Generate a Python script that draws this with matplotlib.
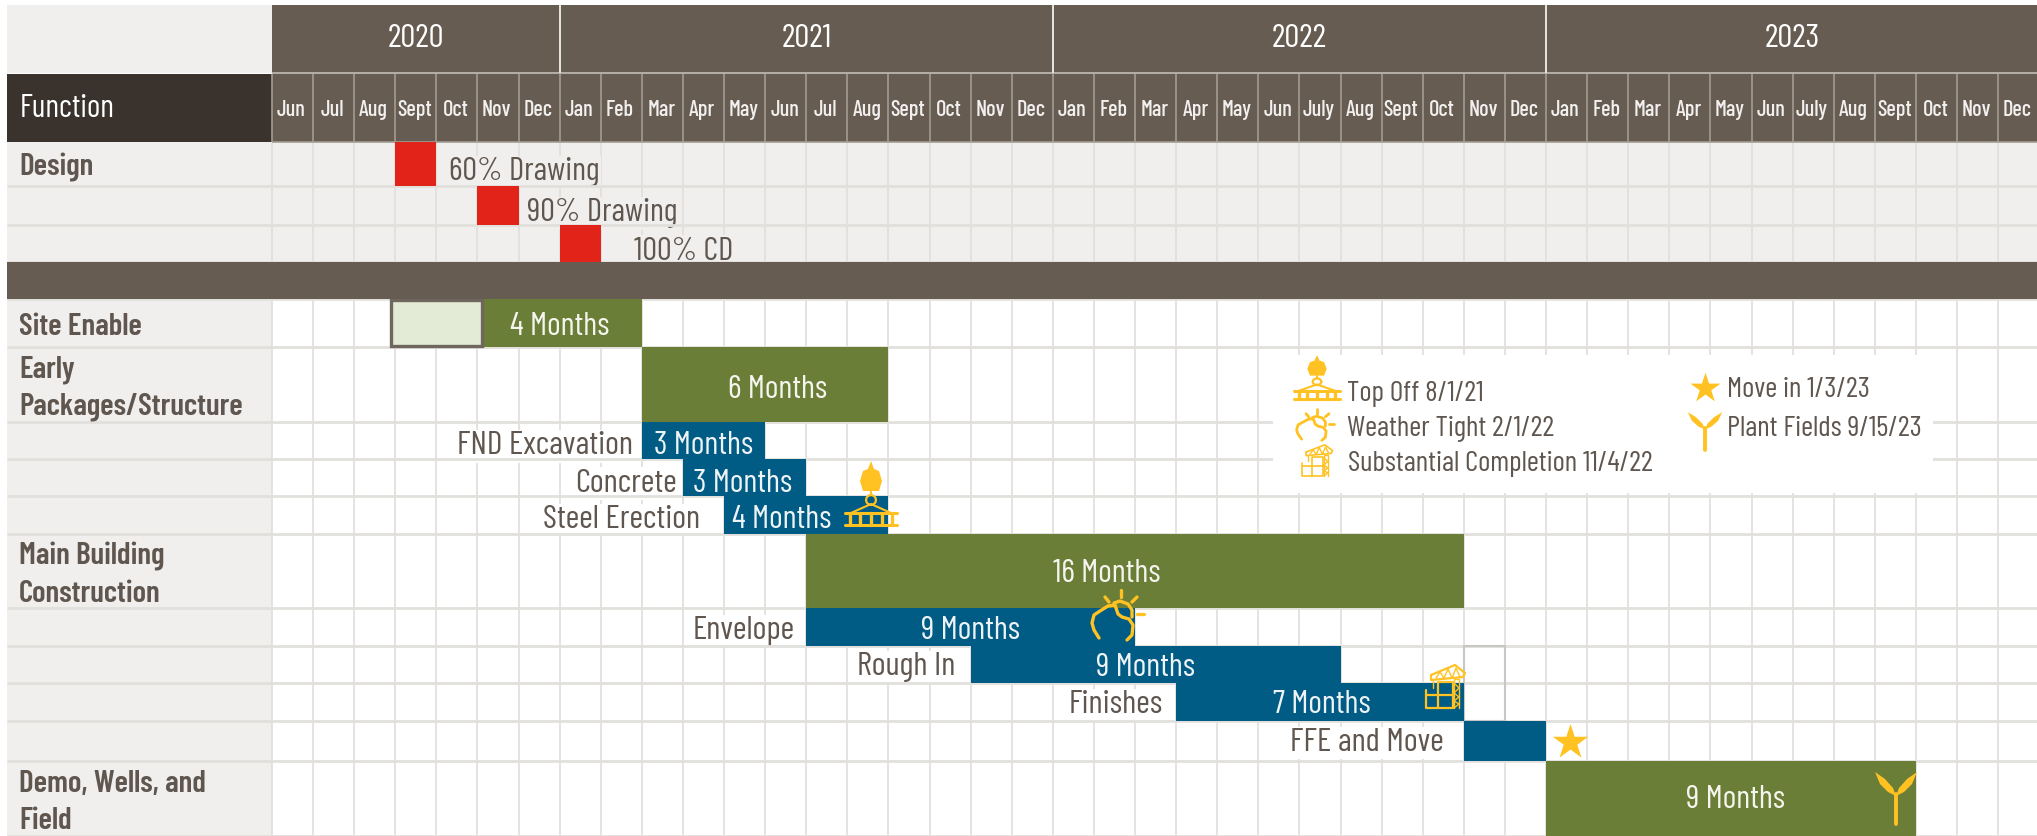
import matplotlib
matplotlib.use('Agg')
import numpy as np
import matplotlib.pyplot as plt
from matplotlib.patches import Polygon, Rectangle

plt.rcParams['font.family'] = ['Barlow Condensed', 'Roboto Condensed', 'Liberation Sans Narrow', 'Liberation Sans', 'DejaVu Sans']

# chart data, months counted from Jun 2020 = 0
months = ['Jun', 'Jul', 'Aug', 'Sept', 'Oct', 'Nov', 'Dec',
          'Jan', 'Feb', 'Mar', 'Apr', 'May', 'Jun', 'Jul', 'Aug', 'Sept', 'Oct', 'Nov', 'Dec',
          'Jan', 'Feb', 'Mar', 'Apr', 'May', 'Jun', 'July', 'Aug', 'Sept', 'Oct', 'Nov', 'Dec',
          'Jan', 'Feb', 'Mar', 'Apr', 'May', 'Jun', 'July', 'Aug', 'Sept', 'Oct', 'Nov', 'Dec']
years = ['2020', '2021', '2022', '2023']
year_centers = [3.5, 13, 25, 37]
year_starts = [7, 19, 31]

design_names = ['60% Drawing', '90% Drawing', '100% CD']
design_start = [3, 5, 7]
design_label_x = [4.3, 6.2, 8.8]

group_names = ['Site Enable', 'Early\nPackages/Structure', 'Main Building\nConstruction', 'Demo, Wells, and\nField']
group_rows = [4, 5, 9, 14]
group_start = [5, 9, 13, 31]
group_end = [9, 15, 29, 40]
group_text = ['4 Months', '6 Months', '16 Months', '9 Months']
group_text_x = [7.0, 12.3, 20.3, 35.6]
group_text_dy = [4, 6, 3, 2]

task_names = ['FND Excavation', 'Concrete', 'Steel Erection', 'Envelope', 'Rough In', 'Finishes', 'FFE and Move']
task_rows = [6, 7, 8, 10, 11, 12, 13]
task_start = [9, 10, 11, 13, 17, 22, 29]
task_end = [12, 13, 15, 21, 26, 29, 31]
task_text = ['3 Months', '3 Months', '4 Months', '9 Months', '9 Months', '7 Months', '']
task_text_x = [10.5, 11.46, 12.4, 17.0, 21.25, 25.55, 30]
task_label_gap = [0.22, 0.15, 0.58, 0.27, 0.38, 0.32, 0.5]
task_dy = [6, 6, 5, 4, 3, 3, 2]

legend_left = ['Top Off 8/1/21', 'Weather Tight 2/1/22', 'Substantial Completion 11/4/22']
legend_right = ['Move in 1/3/23', 'Plant Fields 9/15/23']

# layout in pixels of the 2037x836 picture
W, H = 2037, 836
X0, MW = 272, 41.1
row_edges = [142, 186, 225, 262, 299, 347, 422, 459, 496, 534, 608, 646, 683, 721, 761, 836]

PANE = '#F0EFED'
BROWN = '#675C52'
DARK = '#3A322C'
GREEN = '#6A7E38'
BLUE = '#005B85'
RED = '#E2231A'
YELLOW = '#FFC222'
TEXT = '#5F564F'
GRID = '#E2E0DD'
HEADLINE = '#A39C94'


def mx(px):
    return (px - X0) / MW


fig = plt.figure(figsize=(W / 100, H / 100), dpi=100)
ax = fig.add_axes([0, 0, 1, 1])
ax.set_xlim(mx(0), mx(W))
ax.set_ylim(H, 0)
ax.axis('off')


def row_bar(row, start, end, color, **kw):
    top, bot = row_edges[row], row_edges[row + 1]
    ax.barh((top + bot) / 2, end - start, left=start, height=bot - top, color=color, linewidth=0, **kw)


def row_mid(row):
    return (row_edges[row] + row_edges[row + 1]) / 2


# backgrounds
ax.add_patch(Rectangle((mx(7), 5), mx(272) - mx(7), 68, color=PANE, lw=0, zorder=1))
ax.add_patch(Rectangle((0, 5), len(months) + 1, 67, color=BROWN, lw=0, zorder=1))
ax.add_patch(Rectangle((mx(7), 74), mx(272) - mx(7), 68, color=DARK, lw=0, zorder=1))
ax.add_patch(Rectangle((0, 74), len(months) + 1, 68, color=BROWN, lw=0, zorder=1))
ax.add_patch(Rectangle((mx(7), 142), mx(W) - mx(7), 120, color=PANE, lw=0, zorder=1))
ax.add_patch(Rectangle((mx(7), 299), mx(272) - mx(7), 537, color=PANE, lw=0, zorder=1))

# grid
edges = list(range(len(months) + 1))
ax.vlines(edges, 142, 262, color=GRID, lw=1.3, zorder=2)
ax.vlines(edges, 299, 836, color=GRID, lw=1.3, zorder=2)
ax.hlines(row_edges[1:], mx(7), mx(W), color=GRID, lw=2.0, zorder=3.5)
ax.vlines(edges, 74, 142, color=HEADLINE, lw=1.2, zorder=3)
ax.hlines([73, 142], 0, mx(W), color=HEADLINE, lw=1.2, zorder=3)
ax.vlines(year_starts, 5, 73, color='#E8E6E3', lw=1.4, zorder=3)

# band between design and the rest
ax.add_patch(Rectangle((mx(7), 262), mx(W) - mx(7), 37, color=BROWN, lw=0, zorder=7))

# header text
for c, y in zip(year_centers, years):
    ax.text(c, 39, y, color='white', fontsize=24, ha='center', va='center', zorder=8)
for i, m in enumerate(months):
    ax.text(i + 0.47, 110, m, color='#F2F0EE', fontsize=16, fontweight='medium', ha='center', va='center', zorder=8)
ax.text(mx(20), 109, 'Function', color='white', fontsize=23, ha='left', va='center', zorder=8)

# design milestones
for i, name in enumerate(design_names):
    row_bar(i, design_start[i], design_start[i] + 1, RED, zorder=5)
    ax.text(design_label_x[i], row_mid(i) + 8, name, color=TEXT, fontsize=23.5, ha='left', va='center', zorder=3,
            bbox=dict(facecolor=PANE, edgecolor='none', pad=1))

# left column labels
ax.text(mx(19), 167, 'Design', color=TEXT, fontsize=22.5, fontweight='semibold', ha='left', va='center', zorder=8)
for i, name in enumerate(group_names):
    y = row_mid(group_rows[i]) + 4
    ax.text(mx(19), y, name, color=TEXT, fontsize=22.5, fontweight='semibold', ha='left', va='center',
            linespacing=1.37, zorder=8)

# green summary bars
for i in range(len(group_names)):
    row_bar(group_rows[i], group_start[i], group_end[i], GREEN, zorder=5)
    ax.text(group_text_x[i], row_mid(group_rows[i]) + group_text_dy[i], group_text[i], color='#F5F5EE', fontsize=23.5,
            ha='center', va='center', zorder=6)

# site enable lead-in box
ax.add_patch(Rectangle((2.9, 300), 2.2, 46, facecolor='#E3EAD5', edgecolor='#6F665E', lw=2.4, zorder=6))

# outlined empty cell next to finishes
ax.add_patch(Rectangle((29, 646), 1, 75, facecolor='none', edgecolor='#C9C7C5', lw=1.5, zorder=4))

# blue task bars
for i, name in enumerate(task_names):
    row_bar(task_rows[i], task_start[i], task_end[i], BLUE, zorder=5)
    ax.text(task_start[i] - task_label_gap[i], row_mid(task_rows[i]) + task_dy[i], name, color=TEXT, fontsize=24,
            ha='right', va='center', zorder=3, bbox=dict(facecolor='white', edgecolor='none', pad=1))
    if task_text[i]:
        ax.text(task_text_x[i], row_mid(task_rows[i]) + task_dy[i], task_text[i], color='#EEF3F6', fontsize=23.5,
                ha='center', va='center', zorder=6)


# icons, drawn in pixel offsets round a centre
def icon_line(cx, cy, xs, ys, sx, sy, lw):
    ax.plot([mx(cx + a * sx) for a in xs], [cy + b * sy for b in ys], color=YELLOW, lw=lw,
            solid_capstyle='round', solid_joinstyle='round', zorder=9)


def icon_poly(cx, cy, pts, sx, sy):
    ax.add_patch(Polygon([(mx(cx + a * sx), cy + b * sy) for a, b in pts], closed=True, color=YELLOW, lw=0, zorder=9))


def crane_hook(cx, cy, sx=1.0, sy=1.0):
    icon_poly(cx, cy, [(0, -32), (3, -24), (8, -22), (11, -12), (8, -2), (-8, -2), (-11, -12), (-8, -22), (-3, -24)], sx, sy)
    icon_line(cx, cy, [0, 0], [-2, 2], sx, sy, 1.5)
    t = np.radians(np.arange(0, 361, 30))
    icon_line(cx, cy, 5 * np.cos(t), 7 + 5 * np.sin(t), sx, sy, 1.6)
    icon_line(cx, cy, [-20, 0, 20], [20, 11, 20], sx, sy, 1.5)
    icon_line(cx, cy, [-26, 26], [20, 20], sx, sy, 2.2)
    icon_line(cx, cy, [-26, 26], [32, 32], sx, sy, 2.2)
    for a in [-21, -11, 0, 11, 21]:
        icon_line(cx, cy, [a, a], [20, 32], sx, sy, 2.4)


def cloud(cx, cy, sx=1.0, sy=1.0, lw=2.4):
    # cloud outline with the sun behind it
    icon_line(cx, cy, [-13, -18, -20, -18, -12, -4, 3, 6, 10, 17, 21, 20, 15],
              [18, 10, 3, -5, -9, -14, -15, -6, -3, -1, 5, 15, 20], sx, sy, lw)
    icon_line(cx, cy, [2, 8, 16, 20, 20], [-17, -19, -16, -10, -3], sx, sy, lw)
    icon_line(cx, cy, [9, 9], [-30, -23], sx, sy, lw)
    icon_line(cx, cy, [-7, -3], [-23, -18], sx, sy, lw)
    icon_line(cx, cy, [25, 20], [-23, -18], sx, sy, lw)
    icon_line(cx, cy, [25, 32], [-6, -6], sx, sy, lw)


def building(cx, cy, sx=1.0, sy=1.0, lw=1.6):
    icon_line(cx, cy, [-19, -19, 8, 8, -7, -7], [-3, 15, 15, -11, -11, 15], sx, sy, lw)
    icon_line(cx, cy, [-19, 8], [2, 2], sx, sy, lw)
    icon_line(cx, cy, [-12, -12], [-13, -5], sx, sy, 1.0)
    icon_line(cx, cy, [9, 9, 14, 14], [15, -14, -14, 15], sx, sy, 1.0)
    icon_line(cx, cy, [9, 14, 9, 14, 9, 14, 9], [-10, -5, 0, 4, 8, 11, 15], sx, sy, 1.0)
    icon_line(cx, cy, [-14, 10, 20, 18, -14, -14], [-18, -28, -20, -16, -13, -18], sx, sy, lw)
    icon_line(cx, cy, [-9, -5, -1, 3, 7, 11, 15], [-15, -21, -15, -24, -15, -25, -16], sx, sy, 1.0)


def sprout(cx, cy, sx=1.0, sy=1.0):
    icon_line(cx, cy, [0, 0], [0, 30], sx, sy, 2.8)
    icon_poly(cx, cy, [(0, 2), (-8, -2), (-16, -10), (-21, -22), (-11, -15), (-3, -6)], sx, sy)
    icon_poly(cx, cy, [(0, 2), (8, -2), (16, -10), (21, -22), (11, -15), (3, -6)], sx, sy)


# legend box goes over the grid
ax.add_patch(Rectangle((mx(1273), 355), mx(1933) - mx(1273), 138, color='white', lw=0, zorder=3.6))
ax.text(mx(1347), 394, legend_left[0], color=TEXT, fontsize=21, ha='left', va='center', zorder=8)
ax.text(mx(1347), 429, legend_left[1], color=TEXT, fontsize=21, ha='left', va='center', zorder=8)
ax.text(mx(1348), 464, legend_left[2], color=TEXT, fontsize=21, ha='left', va='center', zorder=8)
ax.text(mx(1727), 390, legend_right[0], color=TEXT, fontsize=21, ha='left', va='center', zorder=8)
ax.text(mx(1727), 429, legend_right[1], color=TEXT, fontsize=21, ha='left', va='center', zorder=8)

crane_hook(1317, 377, 0.88, 0.68)
cloud(1311, 428, 0.72, 0.62, 2.0)
building(1317, 465, 0.78, 0.72, 1.2)
ax.scatter([mx(1705)], [388], marker='*', s=520, color=YELLOW, lw=0, zorder=9)
sprout(1705, 428, 0.82, 0.72)

# icons on the bars
crane_hook(871, 493)
cloud(1112, 620)
building(1445, 693)
ax.scatter([mx(1570)], [742], marker='*', s=720, color=YELLOW, lw=0, zorder=9)
sprout(1896, 794)

fig.savefig('out.png', dpi=100, facecolor='white')
